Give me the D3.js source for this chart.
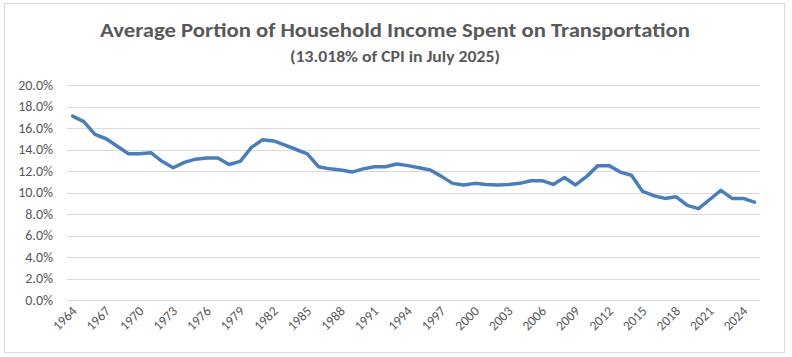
<!DOCTYPE html>
<html>
<head>
<meta charset="utf-8">
<script src="https://cdn.jsdelivr.net/npm/d3@7"></script>
<style>
  html, body { margin: 0; padding: 0; background: #fff; }
  svg { display: block; }
</style>
</head>
<body>
<svg id="chart" width="792" height="357"></svg>
<script>
const years = d3.range(1964, 2026);
const values = [
  17.1, 16.6, 15.4, 15.0, 14.3, 13.6, 13.6, 13.7, 12.9, 12.3,
  12.8, 13.1, 13.2, 13.2, 12.6, 12.9, 14.2, 14.9, 14.8, 14.4,
  14.0, 13.6, 12.4, 12.2, 12.1, 11.9, 12.2, 12.4, 12.4, 12.65,
  12.5, 12.3, 12.1, 11.5, 10.85, 10.7, 10.85, 10.75, 10.7, 10.75,
  10.85, 11.1, 11.1, 10.75, 11.4, 10.7, 11.5, 12.5, 12.5, 11.9,
  11.6, 10.1, 9.7, 9.45, 9.6, 8.8, 8.5, 9.35, 10.2, 9.45,
  9.45, 9.1
];
const yTicks = [0, 2, 4, 6, 8, 10, 12, 14, 16, 18, 20];
const xTickYears = d3.range(1964, 2026, 3);
const titleText = "Average Portion of Household Income Spent on Transportation";
const subtitleText = "(13.018% of CPI in July 2025)";

const data = years.map((yr, i) => ({ year: yr, value: values[i] }));

const svg = d3.select("#chart");
const textColor = "#595959";
const font = "Carlito, 'Liberation Sans Narrow', 'Open Sans', sans-serif";

// chart border
svg.append("rect")
  .attr("x", 4.5).attr("y", 3.5)
  .attr("width", 780).attr("height", 349)
  .attr("fill", "#fff").attr("stroke", "#d9d9d9").attr("stroke-width", 1);

const plotLeft = 67, plotRight = 760, plotTop = 85, plotBottom = 300;

const x = d3.scaleBand().domain(years).range([plotLeft, plotRight]);
const y = d3.scaleLinear().domain([0, 20]).range([plotBottom, plotTop]);

// gridlines
svg.append("g").selectAll("line").data(yTicks).join("line")
  .attr("x1", plotLeft).attr("x2", plotRight)
  .attr("y1", d => Math.round(y(d)) + 0.5).attr("y2", d => Math.round(y(d)) + 0.5)
  .attr("stroke", "#d9d9d9").attr("stroke-width", 1);

// y axis labels
const yAxis = d3.axisLeft(y).tickValues(yTicks).tickSize(0).tickPadding(0)
  .tickFormat(d => d.toFixed(1) + "%");
const gy = svg.append("g").attr("transform", `translate(${53},0)`).call(yAxis);
gy.select(".domain").remove();
gy.selectAll("text").attr("fill", textColor).style("font-family", font).style("font-size", "14px");

// x axis labels
const xAxis = d3.axisBottom(x).tickValues(xTickYears).tickSize(0).tickPadding(0);
const gx = svg.append("g").attr("transform", `translate(0,${plotBottom})`).call(xAxis);
gx.select(".domain").remove();
gx.selectAll("text")
  .attr("fill", textColor)
  .style("font-family", font).style("font-size", "13.5px")
  .attr("text-anchor", "end")
  .attr("dy", null)
  .attr("y", 0)
  .attr("transform", "translate(5,12) rotate(-45)");

// line
const line = d3.line()
  .x(d => x(d.year) + x.bandwidth() / 2)
  .y(d => y(d.value));
svg.append("path").datum(data)
  .attr("d", line)
  .attr("fill", "none")
  .attr("stroke", "#4a7ebb")
  .attr("stroke-width", 3.5)
  .attr("stroke-linejoin", "round")
  .attr("stroke-linecap", "round");

// title
svg.append("text")
  .attr("x", 395).attr("y", 37)
  .attr("text-anchor", "middle")
  .attr("fill", textColor)
  .style("font-family", font).style("font-size", "21px").style("font-weight", "bold")
  .attr("textLength", 590).attr("lengthAdjust", "spacingAndGlyphs")
  .text(titleText);
svg.append("text")
  .attr("x", 395).attr("y", 62)
  .attr("text-anchor", "middle")
  .attr("fill", textColor)
  .style("font-family", font).style("font-size", "15px").style("font-weight", "bold")
  .attr("textLength", 210).attr("lengthAdjust", "spacingAndGlyphs")
  .text(subtitleText);
</script>
</body>
</html>
